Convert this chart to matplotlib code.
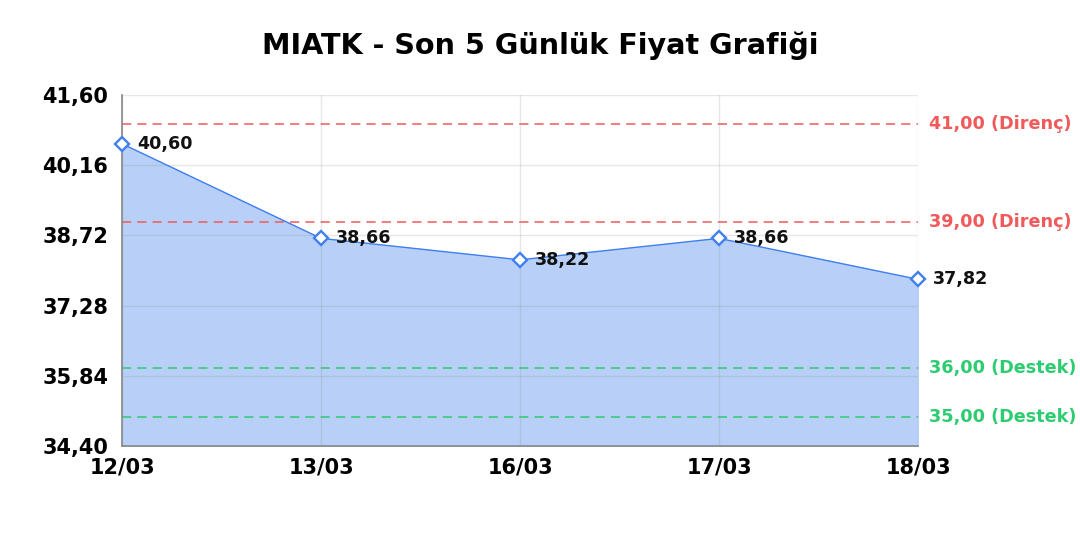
import matplotlib
matplotlib.use("Agg")
import matplotlib.pyplot as plt

plt.rcParams["font.family"] = ["DejaVu Sans"]

dates = ["12/03", "13/03", "16/03", "17/03", "18/03"]
prices = [40.60, 38.66, 38.22, 38.66, 37.82]
resistance = [41.00, 39.00]
support = [36.00, 35.00]
y_ticks = [34.40, 35.84, 37.28, 38.72, 40.16, 41.60]


def fmt(v):
    return f"{v:.2f}".replace(".", ",")


fig = plt.figure(figsize=(10.8, 5.4), dpi=100)
ax = fig.add_axes([0.113, 0.174, 0.737, 0.650])

x = list(range(len(dates)))
ax.fill_between(x, prices, y_ticks[0], color="#b8d0f8", zorder=1)
ax.plot(x, prices, color="#3f7fef", linewidth=1.0, zorder=3,
        marker="D", markersize=7, markerfacecolor="white",
        markeredgecolor="#3f7fef", markeredgewidth=1.7, clip_on=False)

for xi, p in zip(x, prices):
    ax.annotate(fmt(p), (xi, p), xytext=(11, 0), textcoords="offset points",
                va="center", ha="left", fontsize=12.6, fontweight="bold",
                color="#111111", zorder=4)

for r in resistance:
    ax.axhline(r, color="#f05a5a", linestyle=(0, (6, 4)), linewidth=1.1, zorder=2)
    ax.annotate(f"{fmt(r)} (Direnç)", (1.0, r), xycoords=("axes fraction", "data"),
                xytext=(8, 0), textcoords="offset points", va="center",
                fontsize=12.7, fontweight="bold", color="#f05a5a")
for s in support:
    ax.axhline(s, color="#2ecc71", linestyle=(0, (6, 4)), linewidth=1.1, zorder=2)
    ax.annotate(f"{fmt(s)} (Destek)", (1.0, s), xycoords=("axes fraction", "data"),
                xytext=(8, 0), textcoords="offset points", va="center",
                fontsize=12.7, fontweight="bold", color="#2ecc71")

ax.set_xlim(0, len(dates) - 1)
ax.set_ylim(y_ticks[0], y_ticks[-1])
ax.set_xticks(x)
ax.set_xticklabels(dates)
ax.set_yticks(y_ticks)
ax.set_yticklabels([fmt(v) for v in y_ticks])
ax.tick_params(length=0, labelsize=15)
ax.tick_params(axis="x", pad=8)
ax.tick_params(axis="y", pad=10)
for lab in ax.get_xticklabels() + ax.get_yticklabels():
    lab.set_fontweight("bold")

ax.grid(True, color="#888888", alpha=0.2, linewidth=1)
ax.set_axisbelow(False)
for side in ["top", "right"]:
    ax.spines[side].set_visible(False)
for side in ["left", "bottom"]:
    ax.spines[side].set_color("#888888")
    ax.spines[side].set_linewidth(1.2)

fig.text(0.5, 0.9, "MIATK - Son 5 Günlük Fiyat Grafiği", fontsize=20.6,
         fontweight="bold", ha="center", va="baseline")

fig.savefig("out.png", dpi=100)
